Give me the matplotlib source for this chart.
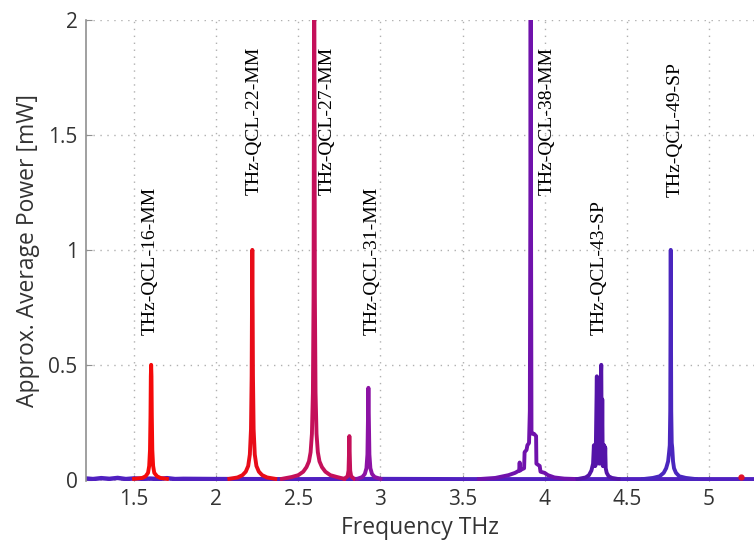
import matplotlib
matplotlib.use('Agg')
import matplotlib.pyplot as plt

# Spectra (frequency in THz, power in mW)
freq16 = [1.50, 1.55, 1.57, 1.585, 1.592, 1.597, 1.600, 1.602, 1.604, 1.606, 1.608, 1.611, 1.616, 1.623, 1.64, 1.66, 1.70]
pow16 = [0.004, 0.008, 0.015, 0.03, 0.06, 0.13, 0.28, 0.45, 0.50, 0.45, 0.28, 0.13, 0.06, 0.03, 0.015, 0.008, 0.004]

freq22 = [2.08, 2.13, 2.16, 2.18, 2.195, 2.205, 2.212, 2.216, 2.218, 2.220, 2.222, 2.224, 2.228, 2.235, 2.245, 2.26, 2.28, 2.31, 2.36]
pow22 = [0.004, 0.01, 0.02, 0.035, 0.06, 0.11, 0.22, 0.45, 0.75, 1.0, 0.75, 0.45, 0.22, 0.11, 0.06, 0.035, 0.02, 0.01, 0.004]

freq27 = [2.40, 2.46, 2.50, 2.53, 2.55, 2.565, 2.575, 2.583, 2.589, 2.593, 2.595, 2.597, 2.599, 2.601, 2.605, 2.611,
          2.619, 2.629, 2.644, 2.665, 2.695, 2.735, 2.78]
pow27 = [0.004, 0.012, 0.02, 0.035, 0.055, 0.08, 0.12, 0.2, 0.38, 0.8, 1.6, 2.4, 1.6, 0.8, 0.38, 0.2,
         0.12, 0.08, 0.055, 0.035, 0.02, 0.012, 0.004]

freq28 = [2.78, 2.80, 2.806, 2.809, 2.811, 2.813, 2.816, 2.822, 2.84]
pow28 = [0.004, 0.015, 0.04, 0.12, 0.19, 0.12, 0.04, 0.015, 0.004]

freq31 = [2.86, 2.89, 2.905, 2.915, 2.921, 2.924, 2.927, 2.930, 2.933, 2.939, 2.949, 2.965, 3.0]
pow31 = [0.004, 0.012, 0.025, 0.05, 0.11, 0.25, 0.40, 0.25, 0.11, 0.05, 0.025, 0.012, 0.004]

freq38 = [3.60, 3.70, 3.78, 3.82, 3.845, 3.848, 3.851, 3.86, 3.875, 3.878, 3.89, 3.895, 3.905, 3.910, 3.913, 3.915,
          3.917, 3.920, 3.925, 3.935, 3.948, 3.95, 3.97, 3.975, 4.00, 4.02, 4.06, 4.12, 4.20]
pow38 = [0.003, 0.008, 0.02, 0.03, 0.04, 0.075, 0.04, 0.045, 0.05, 0.12, 0.13, 0.15, 0.16, 0.3, 1.2, 2.4,
         1.2, 0.21, 0.2, 0.2, 0.19, 0.07, 0.06, 0.035, 0.03, 0.02, 0.01, 0.005, 0.003]

freq43 = [4.20, 4.25, 4.27, 4.285, 4.295, 4.300, 4.303, 4.306, 4.309, 4.312, 4.315, 4.318, 4.321, 4.324, 4.327,
          4.330, 4.333, 4.336, 4.339, 4.342, 4.345, 4.348, 4.351, 4.354, 4.357, 4.360, 4.363, 4.366, 4.369,
          4.372, 4.378, 4.39, 4.41, 4.45]
pow43 = [0.003, 0.01, 0.02, 0.04, 0.07, 0.15, 0.06, 0.15, 0.06, 0.15, 0.3, 0.45, 0.1, 0.42, 0.08,
         0.3, 0.07, 0.38, 0.1, 0.44, 0.5, 0.08, 0.35, 0.06, 0.15, 0.06, 0.15, 0.06, 0.14,
         0.05, 0.03, 0.015, 0.008, 0.003]

freq49 = [4.60, 4.66, 4.70, 4.725, 4.74, 4.752, 4.758, 4.762, 4.765, 4.768, 4.771, 4.774, 4.777, 4.782, 4.788, 4.80,
          4.82, 4.86, 4.92]
pow49 = [0.003, 0.008, 0.015, 0.03, 0.05, 0.08, 0.12, 0.15, 0.3, 1.0, 0.3, 0.16, 0.14, 0.08, 0.05, 0.03,
         0.015, 0.008, 0.003]

# noisy floor of the measurement
base_freq = [1.20, 1.25, 1.30, 1.35, 1.40, 1.45, 1.50, 1.55, 1.60, 1.65, 1.70, 1.75, 1.80, 2.0, 2.5, 3.0, 3.5, 4.0, 4.5, 5.0, 5.3]
base_pow = [0.006, 0.003, 0.007, 0.004, 0.008, 0.003, 0.006, 0.004, 0.005, 0.003, 0.007, 0.003, 0.004, 0.003, 0.002, 0.003,
            0.002, 0.002, 0.002, 0.002, 0.002]

spectra = [
    (freq16, pow16, '#f50a0a'),
    (freq22, pow22, '#e80c18'),
    (freq27, pow27, '#c4105a'),
    (freq28, pow28, '#c4105a'),
    (freq31, pow31, '#8c12a4'),
    (freq38, pow38, '#7012ac'),
    (freq43, pow43, '#5414a8'),
    (freq49, pow49, '#4a26be'),
]

labels = ['THz-QCL-16-MM', 'THz-QCL-22-MM', 'THz-QCL-27-MM', 'THz-QCL-31-MM',
          'THz-QCL-38-MM', 'THz-QCL-43-SP', 'THz-QCL-49-SP']
label_x = [1.598, 2.232, 2.677, 2.951, 4.018, 4.335, 4.793]
label_y = [0.63, 1.24, 1.24, 0.63, 1.24, 0.63, 1.23]

fig = plt.figure(figsize=(7.54, 5.40), dpi=100)
ax = fig.add_axes([0.114, 0.109, 0.886, 0.854])

ax.plot(base_freq, base_pow, color='#5020c0', lw=3.2, solid_capstyle='butt')
for f, p, c in spectra:
    ax.plot(f, p, color=c, lw=2.8, solid_joinstyle='round')
ax.plot([5.195], [0.012], 'o', color='#e0102a', ms=3.5)

for txt, x, y in zip(labels, label_x, label_y):
    ax.text(x, y, txt, rotation=90, ha='center', va='bottom',
            family='Liberation Serif', fontsize=14, color='black')

ax.set_xlim(1.207, 5.275)
ax.set_ylim(-0.006, 2)
ax.set_xticks([1.5, 2, 2.5, 3, 3.5, 4, 4.5, 5])
ax.set_xticklabels(['1.5', '2', '2.5', '3', '3.5', '4', '4.5', '5'])
ax.set_yticks([0, 0.5, 1, 1.5, 2])
ax.set_yticklabels(['0', '0.5', '1', '1.5', '2'])

ax.grid(True, color='#b0b0b0', linestyle=(0, (1, 4)), lw=1)
ax.set_axisbelow(True)
for s in ['top', 'right', 'bottom']:
    ax.spines[s].set_visible(False)
ax.spines['left'].set_color('#909090')
ax.spines['left'].set_linewidth(1.2)
ax.tick_params(direction='in', length=4, color='#909090', labelsize=15,
               labelcolor='#333333', labelfontfamily='Open Sans', pad=6)

ax.set_xlabel('Frequency THz', family='Open Sans', fontsize=16.5, color='#333333', labelpad=4)
ax.set_ylabel('Approx. Average Power [mW]', family='Open Sans', fontsize=16.5, color='#333333', labelpad=6)

fig.savefig('out.png', dpi=100)
